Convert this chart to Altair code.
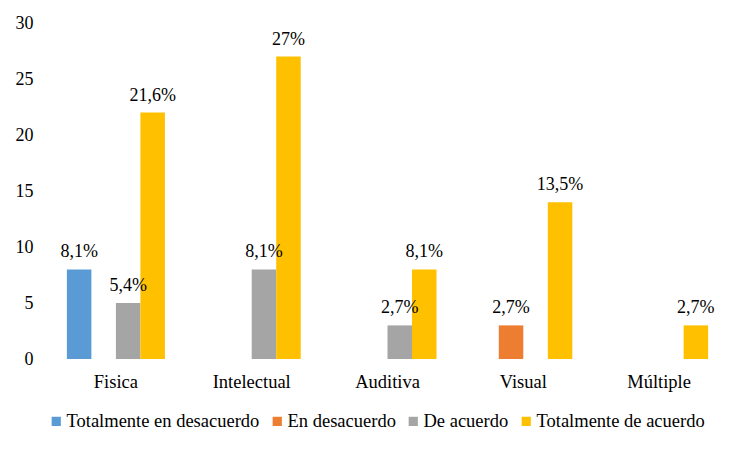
import altair as alt
import pandas as pd

categories = ["Fisica", "Intelectual", "Auditiva", "Visual", "Múltiple"]
series = ["Totalmente en desacuerdo", "En desacuerdo", "De acuerdo", "Totalmente de acuerdo"]
colors = ["#5B9BD5", "#ED7D31", "#A5A5A5", "#FFC000"]

# (category, series, value, label)
rows = [
    ("Fisica", "Totalmente en desacuerdo", 8, "8,1%"),
    ("Fisica", "De acuerdo", 5, "5,4%"),
    ("Fisica", "Totalmente de acuerdo", 22, "21,6%"),
    ("Intelectual", "De acuerdo", 8, "8,1%"),
    ("Intelectual", "Totalmente de acuerdo", 27, "27%"),
    ("Auditiva", "De acuerdo", 3, "2,7%"),
    ("Auditiva", "Totalmente de acuerdo", 8, "8,1%"),
    ("Visual", "En desacuerdo", 3, "2,7%"),
    ("Visual", "Totalmente de acuerdo", 14, "13,5%"),
    ("Múltiple", "Totalmente de acuerdo", 3, "2,7%"),
]
df = pd.DataFrame(rows, columns=["categoria", "serie", "valor", "etiqueta"])

FONT = "Times New Roman, Liberation Serif, serif"
FS = 18.5

x = alt.X("categoria:N", sort=categories, title=None,
          scale=alt.Scale(paddingInner=0.278, paddingOuter=0.139),
          axis=alt.Axis(labelAngle=0, ticks=False, domain=False, grid=False,
                        labelFont=FONT, labelFontSize=FS, labelColor="#000000",
                        labelPadding=13))
xo = alt.XOffset("serie:N", sort=series,
                 scale=alt.Scale(domain=series, paddingInner=0, paddingOuter=0))
y = alt.Y("valor:Q", title=None,
          scale=alt.Scale(domain=[0, 30], nice=False),
          axis=alt.Axis(values=[0, 5, 10, 15, 20, 25, 30], ticks=False, domain=False,
                        grid=False, labelFont=FONT, labelFontSize=18,
                        labelColor="#000000", labelPadding=15))

bars = alt.Chart(df).mark_bar().encode(
    x=x, xOffset=xo, y=y,
    color=alt.Color("serie:N", sort=series,
                    scale=alt.Scale(domain=series, range=colors),
                    legend=alt.Legend(title=None, orient="none", direction="horizontal",
                                      legendX=-1, legendY=389,
                                      symbolType="square", symbolSize=85,
                                      symbolStrokeWidth=0, labelFont=FONT,
                                      labelFontSize=FS, labelColor="#000000",
                                      labelLimit=400, labelOffset=1,
                                      columnPadding=8)),
)

labels = alt.Chart(df).mark_text(font=FONT, fontSize=18, color="#000000",
                                 baseline="alphabetic", dy=-12).encode(
    x=x, xOffset=xo, y=y, text="etiqueta:N"
)

chart = alt.layer(bars, labels).properties(
    width=679, height=336,
    autosize=alt.AutoSizeParams(type="none"),
    padding={"left": 40, "top": 15, "right": 10, "bottom": 80},
).configure(font=FONT).configure_view(stroke=None)

chart.save("out.html", embed_options={"renderer": "svg", "actions": False})
